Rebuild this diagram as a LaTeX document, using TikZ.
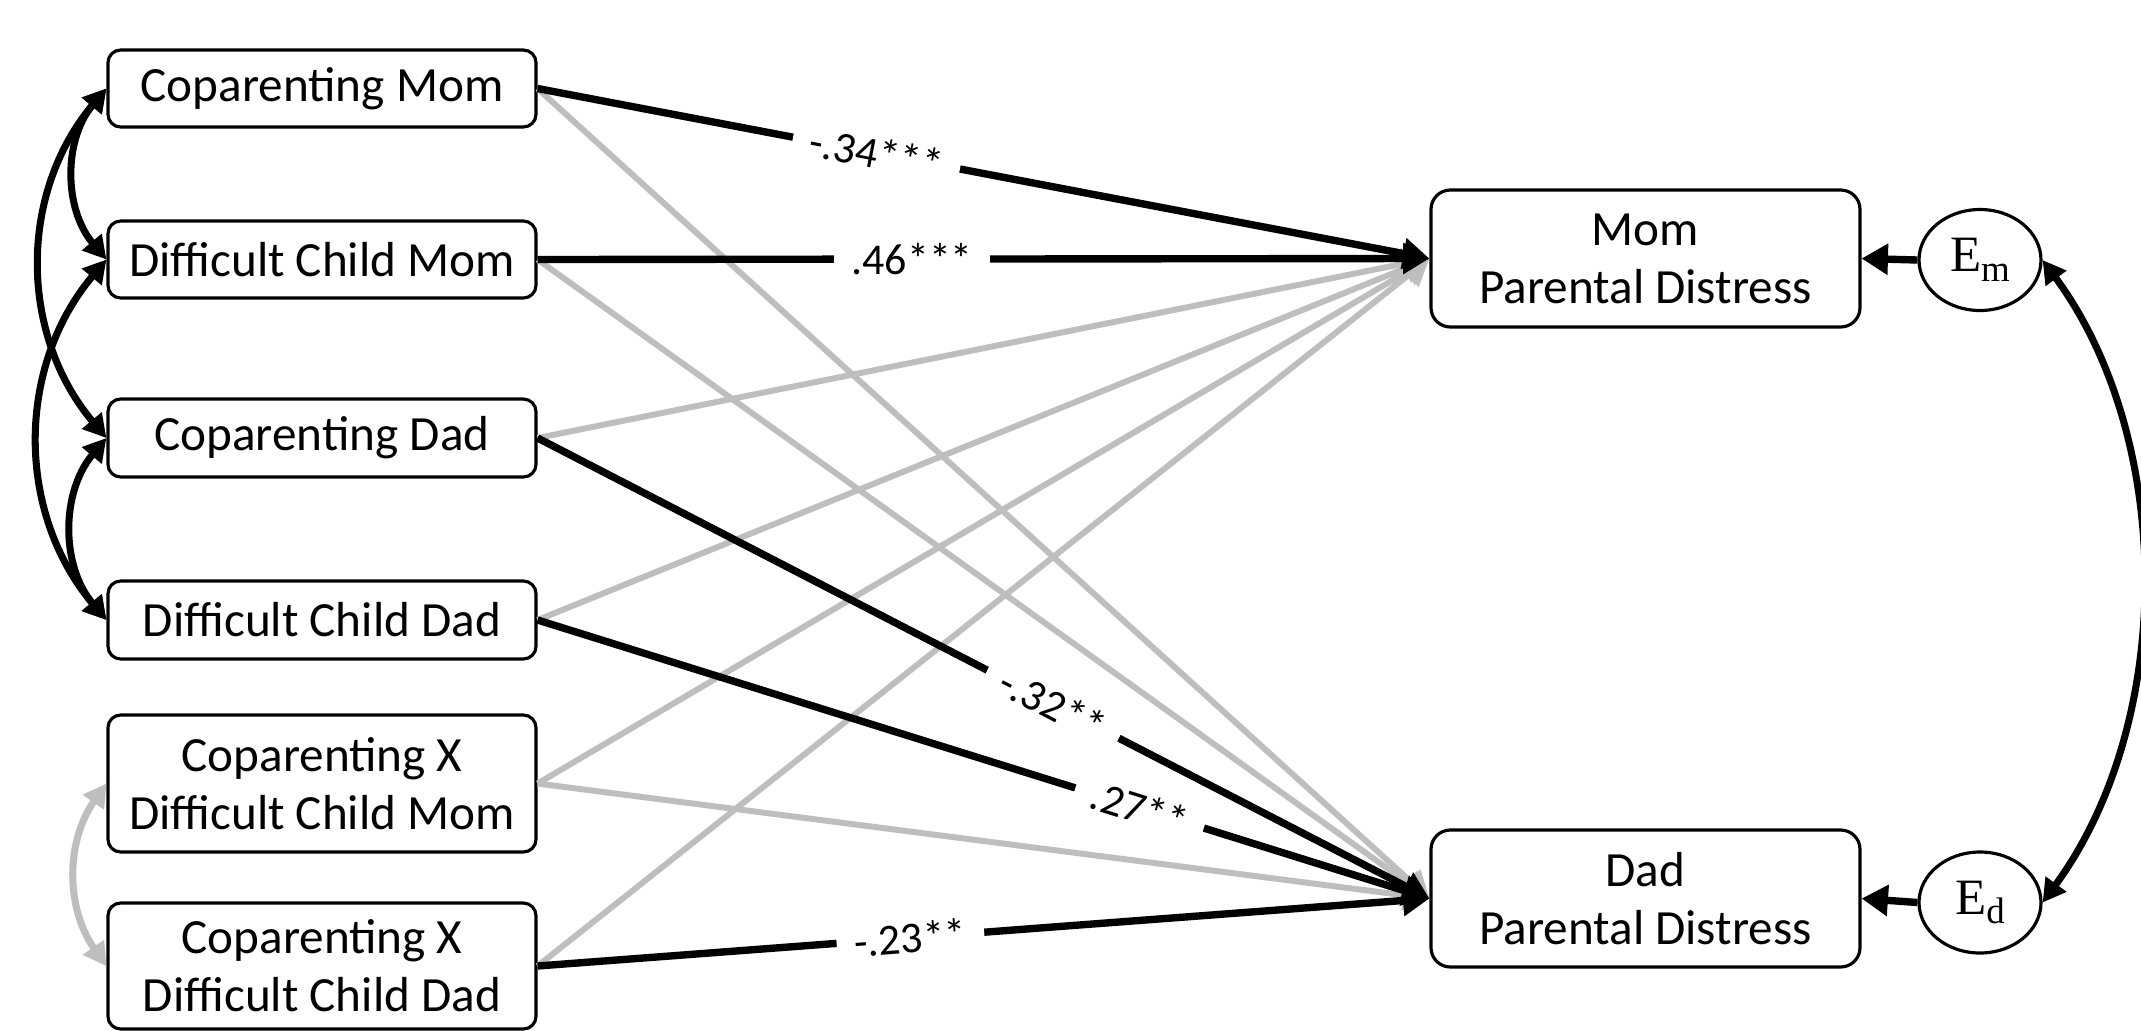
\documentclass[tikz,border=0pt]{standalone}
\usepackage{fontspec}
\setmainfont{Carlito}
\newfontfamily\errfont{Liberation Serif}
\usetikzlibrary{arrows.meta,shapes.geometric}

\definecolor{pathgray}{RGB}{190,190,190}
\newcommand\boxfont{\fontsize{14}{16.5}\selectfont}
\newcommand\coeffont{\fontsize{12.5}{14}\selectfont}
\newcommand\errlabel[1]{{\errfont\fontsize{14.5}{15}\selectfont E\raisebox{-2.8pt}{\fontsize{10.5}{11}\selectfont #1}}}

\tikzset{
  varbox/.style={draw, line width=0.9pt, rounded corners=3.6pt, fill=white,
    minimum width=4.28cm, inner sep=0pt, align=center, font=\boxfont},
  outbox/.style={varbox, rounded corners=5.5pt, minimum width=4.29cm, minimum height=1.37cm},
  errnode/.style={draw, ellipse, line width=0.9pt, fill=white, inner sep=0pt,
    minimum width=1.22cm, minimum height=1.01cm},
  sigpath/.style={line width=2.1pt, -{Triangle[length=7.5pt,width=8.5pt]}},
  nspath/.style={line width=1.7pt, draw=pathgray, -{Triangle[length=7.5pt,width=8.5pt]}},
  covpath/.style={line width=2pt,
    {Triangle[length=6.5pt,width=7pt]}-{Triangle[length=6.5pt,width=7pt]}},
  nscov/.style={covpath, draw=pathgray},
  coef/.style={fill=white, inner xsep=5pt, inner ysep=1pt, font=\coeffont},
}

\begin{document}
\begin{tikzpicture}
% canvas
\fill[white] (0,0) rectangle (21.41,-10.30);
\useasboundingbox (0,0) rectangle (21.41,-10.30);

% predictors
\node[varbox, minimum height=0.77cm] (cm)  at (3.22,-0.885) {Coparenting Mom};
\node[varbox, minimum height=0.77cm] (dcm) at (3.22,-2.595) {Difficult Child Mom};
\node[varbox, minimum height=0.78cm] (cd)  at (3.22,-4.38)  {Coparenting Dad};
\node[varbox, minimum height=0.78cm] (dcd) at (3.22,-6.20)  {Difficult Child Dad};
\node[varbox, minimum height=1.37cm] (xm)  at (3.22,-7.835) {Coparenting X\\Difficult Child Mom};
\node[varbox, minimum height=1.26cm] (xd)  at (3.22,-9.66)  {Coparenting X\\Difficult Child Dad};

% outcomes and their errors
\node[outbox] (mpd) at (16.455,-2.585) {Mom\\Parental Distress};
\node[outbox] (dpd) at (16.455,-8.985) {Dad\\Parental Distress};
\node[errnode] (em) at (19.80,-2.60)  {\errlabel{m}};
\node[errnode] (ed) at (19.80,-9.025) {\errlabel{d}};

% non-significant paths
\draw[nspath] (cm.east)  -- (dpd.west);
\draw[nspath] (dcm.east) -- (dpd.west);
\draw[nspath] (cd.east)  -- (mpd.west);
\draw[nspath] (dcd.east) -- (mpd.west);
\draw[nspath] (xm.east)  -- (mpd.west);
\draw[nspath] (xm.east)  -- (dpd.west);
\draw[nspath] (xd.east)  -- (mpd.west);

% significant paths with coefficients
\draw[sigpath] (cm.east)  -- node[coef, pos=0.38,  sloped] {-.34***} (mpd.west);
\draw[sigpath] (dcm.east) -- node[coef, pos=0.42]          {.46***}  (mpd.west);
\draw[sigpath] (cd.east)  -- node[coef, pos=0.578, sloped] {-.32**}  (dpd.west);
\draw[sigpath] (dcd.east) -- node[coef, pos=0.675, sloped] {.27**}   (dpd.west);
\draw[sigpath] (xd.east)  -- node[coef, pos=0.418, sloped] {-.23**}  (dpd.west);

% residuals
\draw[sigpath] (em.west) -- (mpd.east);
\draw[sigpath] (ed.west) -- (dpd.east);
\draw[covpath] (em.east) .. controls (21.75,-4.40) and (21.75,-7.22) .. (ed.east);

% predictor covariances
\draw[covpath] (cm.west)  to[bend right=40] (dcm.west);
\draw[covpath] (cd.west)  to[bend right=40] (dcd.west);
\draw[covpath] (cm.west)  to[bend right=40] (cd.west);
\draw[covpath] (dcm.west) to[bend right=40] (dcd.west);
\draw[nscov]   (xm.west)  to[bend right=35] (xd.west);
\end{tikzpicture}
\end{document}
